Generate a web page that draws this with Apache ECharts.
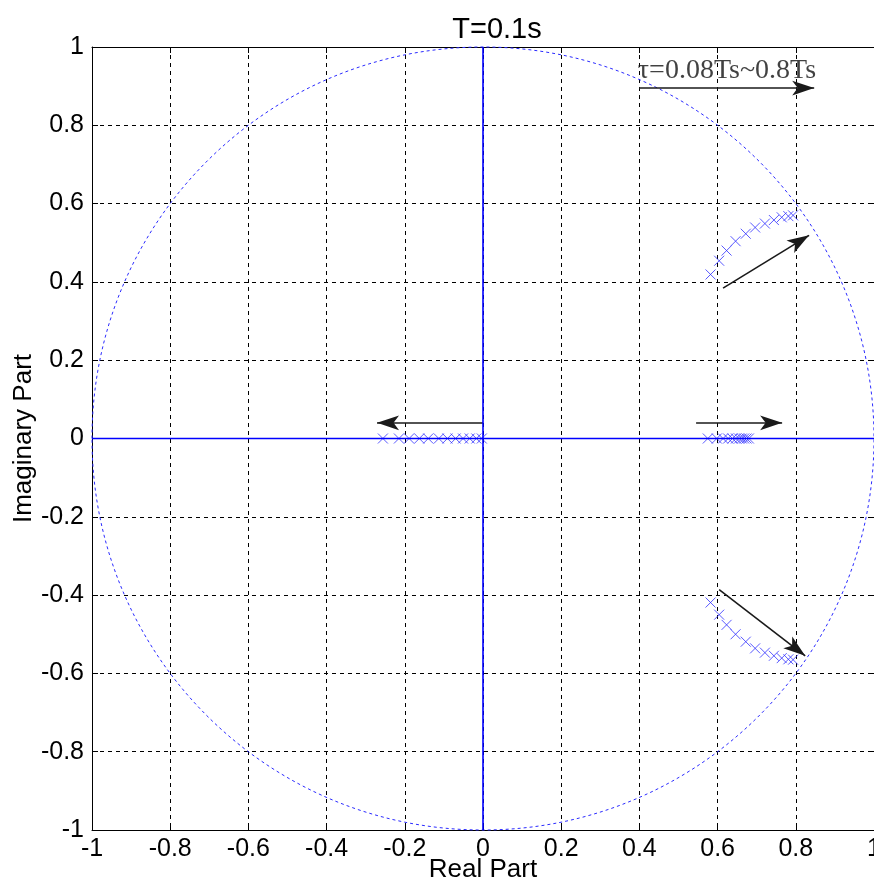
<!DOCTYPE html>
<html><head><meta charset="utf-8">
<script src="https://cdn.jsdelivr.net/npm/echarts@6/dist/echarts.min.js"></script>
<style>html,body{margin:0;padding:0;background:#fff}#c{width:874px;height:882px}</style>
</head><body><div id="c"></div>
<script>
const title = 'T=0.1s';
const xName = 'Real Part';
const yName = 'Imaginary Part';
const annotation = 'τ=0.08Ts~0.8Ts';
const tickMin = -1, tickMax = 1, tickStep = 0.2;

// pole locations
const upperArc = [[0.582,0.419],[0.604,0.454],[0.623,0.480],[0.646,0.504],[0.672,0.523],[0.696,0.539],[0.721,0.549],[0.744,0.558],[0.764,0.565],[0.781,0.568],[0.793,0.570]];
const lowerArc = [[0.582,-0.419],[0.604,-0.450],[0.623,-0.476],[0.646,-0.500],[0.672,-0.519],[0.696,-0.536],[0.721,-0.547],[0.744,-0.555],[0.764,-0.561],[0.781,-0.564],[0.793,-0.565]];
const leftReal = [[-0.256,0],[-0.215,0],[-0.189,0],[-0.163,0],[-0.140,0],[-0.113,0],[-0.091,0],[-0.070,0],[-0.051,0],[-0.034,0],[-0.017,0],[-0.003,0]];
const rightReal = [[0.575,0],[0.598,0],[0.614,0],[0.627,0],[0.638,0],[0.647,0],[0.655,0],[0.662,0],[0.668,0],[0.674,0],[0.680,0]];

// arrows [start, end]
const arrows = [
  [[0.399,0.895],[0.847,0.895]],
  [[0.0,0.04],[-0.271,0.04]],
  [[0.545,0.04],[0.765,0.04]],
  [[0.614,0.384],[0.834,0.519]],
  [[0.604,-0.386],[0.824,-0.555]]
];
const annotationPos = [0.624, 0.940];
const hAxisLine = [[-1,0],[1,0]];
const vAxisLine = [[0,-1],[0,1]];

const fmt = v => (Math.abs(v) < 1e-9 ? '0' : String(+v.toFixed(1)));
const font = 'Liberation Sans, Arial, sans-serif';
const xMark = 'path://M0,0L10,10M10,0L0,10';

const mkAxis = (extra) => Object.assign({
  type:'value', min:tickMin, max:tickMax, interval:tickStep,
  axisLine:{show:true, onZero:false, lineStyle:{color:'#000', width:1}},
  axisTick:{show:true, inside:true, length:6, lineStyle:{color:'#000'}},
}, extra);

const chart = echarts.init(document.getElementById('c'), null, {renderer:'canvas'});
const crossSeries = (d) => ({
  type:'scatter', data:d, symbol:xMark, symbolSize:10,
  itemStyle:{color:'none', borderColor:'#3030ff', borderWidth:1}, z:5, silent:true
});
chart.setOption({
  animation:false,
  title:{text:title, left:492, top:10, textAlign:'center',
    textStyle:{fontFamily:font, fontSize:29, fontWeight:'normal', color:'#000'}},
  grid:{left:92, top:47, width:782, height:783, outerBoundsMode:'none', containLabel:false},
  xAxis:[
    mkAxis({position:'bottom', name:xName, nameLocation:'middle', nameGap:27, nameMoveOverlap:false,
      nameTextStyle:{fontFamily:font, fontSize:26, color:'#000'},
      axisLabel:{formatter:fmt, fontFamily:font, fontSize:25, color:'#000', margin:7},
      splitLine:{show:true, lineStyle:{color:'#000', type:[4,4], width:1}}}),
    mkAxis({position:'top', axisLabel:{show:false}, splitLine:{show:false}})
  ],
  yAxis:[
    mkAxis({position:'left', name:yName, nameLocation:'middle', nameGap:55, nameMoveOverlap:false,
      nameTextStyle:{fontFamily:font, fontSize:26, color:'#000'},
      axisLabel:{formatter:fmt, fontFamily:font, fontSize:25, color:'#000', margin:8},
      splitLine:{show:true, lineStyle:{color:'#000', type:[4,4], width:1}}}),
    mkAxis({position:'right', axisLabel:{show:false}, splitLine:{show:false}})
  ],
  series:[
    {type:'custom', coordinateSystem:'cartesian2d', data:[[0,0]], silent:true, z:3,
      renderItem:(params, api) => {
        const c = api.coord([0,0]);
        const r = api.size([1,1]);
        return {type:'ellipse', shape:{cx:c[0], cy:c[1], rx:r[0], ry:r[1]},
          style:{fill:null, stroke:'#2a2aff', lineWidth:1, lineDash:[3,3]}};
      }},
    {type:'line', data:hAxisLine, symbol:'none', lineStyle:{color:'#0000ff', width:1.6}, z:8, silent:true},
    {type:'line', data:vAxisLine, symbol:'none', lineStyle:{color:'#0000ff', width:1.6}, z:8, silent:true},
    crossSeries(upperArc), crossSeries(lowerArc), crossSeries(leftReal), crossSeries(rightReal),
    {type:'scatter', data:[annotationPos], symbolSize:0, silent:true, z:6,
      label:{show:true, position:'inside', formatter:annotation,
        fontFamily:'Liberation Serif, DejaVu Serif, serif', fontSize:28, color:'#111'}},
    {type:'line', data:[], silent:true, z:7,
      markLine:{silent:true, symbol:['none','arrow'], symbolSize:[11,22], animation:false,
        label:{show:false}, lineStyle:{color:'#1a1a1a', width:1.6, type:'solid'},
        data: arrows.map(a => [{coord:a[0]},{coord:a[1]}])}}
  ]
});
</script></body></html>
